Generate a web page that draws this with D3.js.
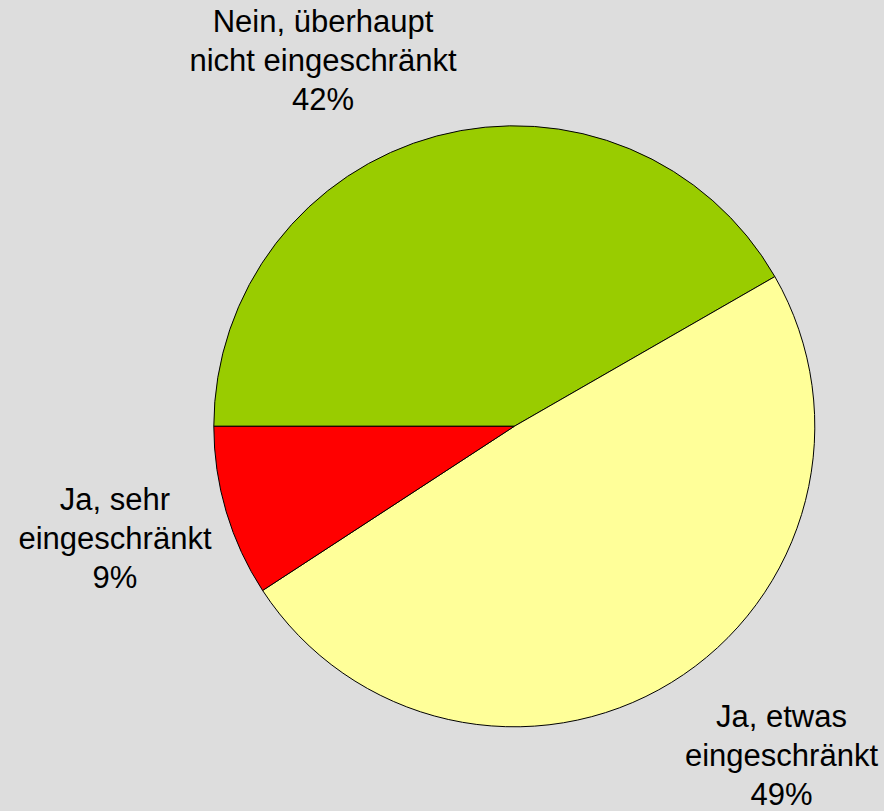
<!DOCTYPE html>
<html>
<head>
<meta charset="utf-8">
<script src="https://cdn.jsdelivr.net/npm/d3@7"></script>
<style>
html,body{margin:0;padding:0;background:#dddddd;}
svg{display:block;}
</style>
</head>
<body>
<svg id="chart" width="884" height="811"></svg>
<script>
const categories = ["Nein, überhaupt nicht eingeschränkt", "Ja, etwas eingeschränkt", "Ja, sehr eingeschränkt"];
// slice shares as measured from the slice angles (labels show them rounded)
const values = [41.7, 49.1, 9.2];
const labelLines = [
  ["Nein, überhaupt", "nicht eingeschränkt"],
  ["Ja, etwas", "eingeschränkt"],
  ["Ja, sehr", "eingeschränkt"]
];
const colors = ["#99cc00", "#ffff99", "#ff0000"];

const W = 884, H = 811;
const cx = 514.3, cy = 426.3, R = 300.5;
const svg = d3.select("#chart");
svg.append("rect").attr("width", W).attr("height", H).attr("fill", "#dddddd");

const pie = d3.pie().sort(null).value(d => d)
  .startAngle(-Math.PI / 2).endAngle(1.5 * Math.PI);
const arcs = pie(values);
const arc = d3.arc().innerRadius(0).outerRadius(R);

const g = svg.append("g").attr("transform", `translate(${cx},${cy})`);
g.selectAll("path").data(arcs).join("path")
  .attr("d", arc)
  .attr("fill", (d, i) => colors[i])
  .attr("stroke", "#000")
  .attr("stroke-width", 1)
  .attr("stroke-linejoin", "round");

const total = d3.sum(values);
// label anchor positions (centre x, first baseline y)
const labelPos = [
  [323, 32],
  [781.5, 727],
  [115, 510]
];
const lineH = 38.8;
const lab = svg.append("g")
  .attr("font-family", "'Liberation Sans', Arial, sans-serif")
  .attr("font-size", 31)
  .attr("fill", "#000")
  .attr("text-anchor", "middle");
labelLines.forEach((lines, i) => {
  const all = lines.concat([Math.round(values[i] / total * 100) + "%"]);
  const t = lab.append("text").attr("x", labelPos[i][0]).attr("y", labelPos[i][1]);
  all.forEach((ln, j) => {
    t.append("tspan").attr("x", labelPos[i][0]).attr("y", labelPos[i][1] + j * lineH).text(ln);
  });
});
</script>
</body>
</html>
